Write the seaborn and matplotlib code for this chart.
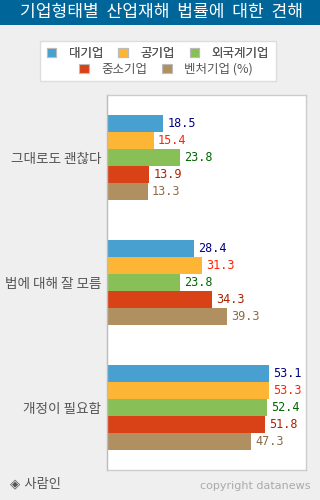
import matplotlib
matplotlib.use("Agg")
import matplotlib.pyplot as plt
import seaborn as sns
import pandas as pd
from matplotlib.patches import Rectangle, Patch

categories = ["그대로도 괜찮다", "법에 대해 잘 모름", "개정이 필요함"]
series = ["대기업", "공기업", "외국계기업", "중소기업", "벤처기업 (%)"]
values = {
    "대기업": [18.5, 28.4, 53.1],
    "공기업": [15.4, 31.3, 53.3],
    "외국계기업": [23.8, 23.8, 52.4],
    "중소기업": [13.9, 34.3, 51.8],
    "벤처기업 (%)": [13.3, 39.3, 47.3],
}
bar_colors = ["#47A0D0", "#FDB535", "#88C057", "#D94117", "#B09060"]
label_colors = ["#000080", "#FF2200", "#006600", "#AA2200", "#8B6B45"]

rows = []
for s in series:
    for c, v in zip(categories, values[s]):
        rows.append({"cat": c, "series": s, "value": v})
df = pd.DataFrame(rows)

sns.set_theme(style="white")
plt.rcParams["font.family"] = ["Noto Sans CJK KR", "DejaVu Sans"]

fig = plt.figure(figsize=(3.2, 5.0), dpi=100)
fig.patch.set_facecolor("#EFEFEF")
ax = fig.add_axes([107/320, 1-470/500, 199/320, 375/500])
ax.set_facecolor("white")

sns.barplot(data=df, y="cat", x="value", hue="series", order=categories,
            hue_order=series, palette=bar_colors, width=0.68, gap=0,
            orient="h", ax=ax, legend=False, saturation=1, linewidth=0)

ax.set_xlim(0, 65.3)
ax.set_ylim(2.5, -0.5)
ax.set_xlabel("")
ax.set_ylabel("")
ax.set_xticks([])
ax.set_yticks(range(len(categories)))
ax.set_yticklabels(categories, fontsize=9.8, color="#555555")
ax.tick_params(axis="y", length=0, pad=4)
ax.set_yticks([0.5, 1.5], minor=True)
ax.tick_params(axis="y", which="minor", direction="in", length=4, color="#999999", width=0.8)
for sp in ax.spines.values():
    sp.set_color("#CCCCCC")
    sp.set_linewidth(1)
ax.spines["left"].set_color("#BBBBBB")

for i, cont in enumerate(ax.containers):
    ax.bar_label(cont, labels=[f"{v:.1f}" for v in cont.datavalues], padding=3,
                 color=label_colors[i], fontsize=8.5, family="DejaVu Sans Mono")

# title bar
fig.patches.append(Rectangle((0, 1-25/500), 1, 25/500, transform=fig.transFigure,
                             facecolor="#006699", edgecolor="none", zorder=0))
fig.text(161/320, 1-12.5/500, "기업형태별  산업재해  법률에  대한  견해", ha="center", va="center",
         color="white", fontsize=12.3)

# legend box
fig.patches.append(Rectangle((40/320, 1-81/500), 236/320, 40/500, transform=fig.transFigure,
                             facecolor="white", edgecolor="#DDDDDD", linewidth=1, zorder=0))
handles = [Patch(facecolor=c, edgecolor="#BBBBBB", linewidth=0.8) for c in bar_colors]
leg1 = fig.legend(handles[:3], series[:3], ncol=3, loc="center", bbox_to_anchor=(158/320, 1-53/500),
                  frameon=False, fontsize=9, handlelength=0.75, handleheight=0.75,
                  handletextpad=1.0, columnspacing=1.2, labelcolor="#555555",
                  borderpad=0, borderaxespad=0)
leg2 = fig.legend(handles[3:], series[3:], ncol=2, loc="center", bbox_to_anchor=(166/320, 1-69/500),
                  frameon=False, fontsize=9, handlelength=0.75, handleheight=0.75,
                  handletextpad=1.0, columnspacing=1.2, labelcolor="#555555",
                  borderpad=0, borderaxespad=0)
fig.add_artist(leg1)

fig.text(10/320, 1-484/500, "◈ 사람인", ha="left", va="center", color="#555555", fontsize=9.5,
         family=["DejaVu Sans", "Noto Sans CJK KR"])
fig.text(310/320, 1-486/500, "copyright datanews", ha="right", va="center", color="#AAAAAA",
         fontsize=8, family="DejaVu Sans")

fig.savefig("out.png", dpi=100, facecolor=fig.get_facecolor())
